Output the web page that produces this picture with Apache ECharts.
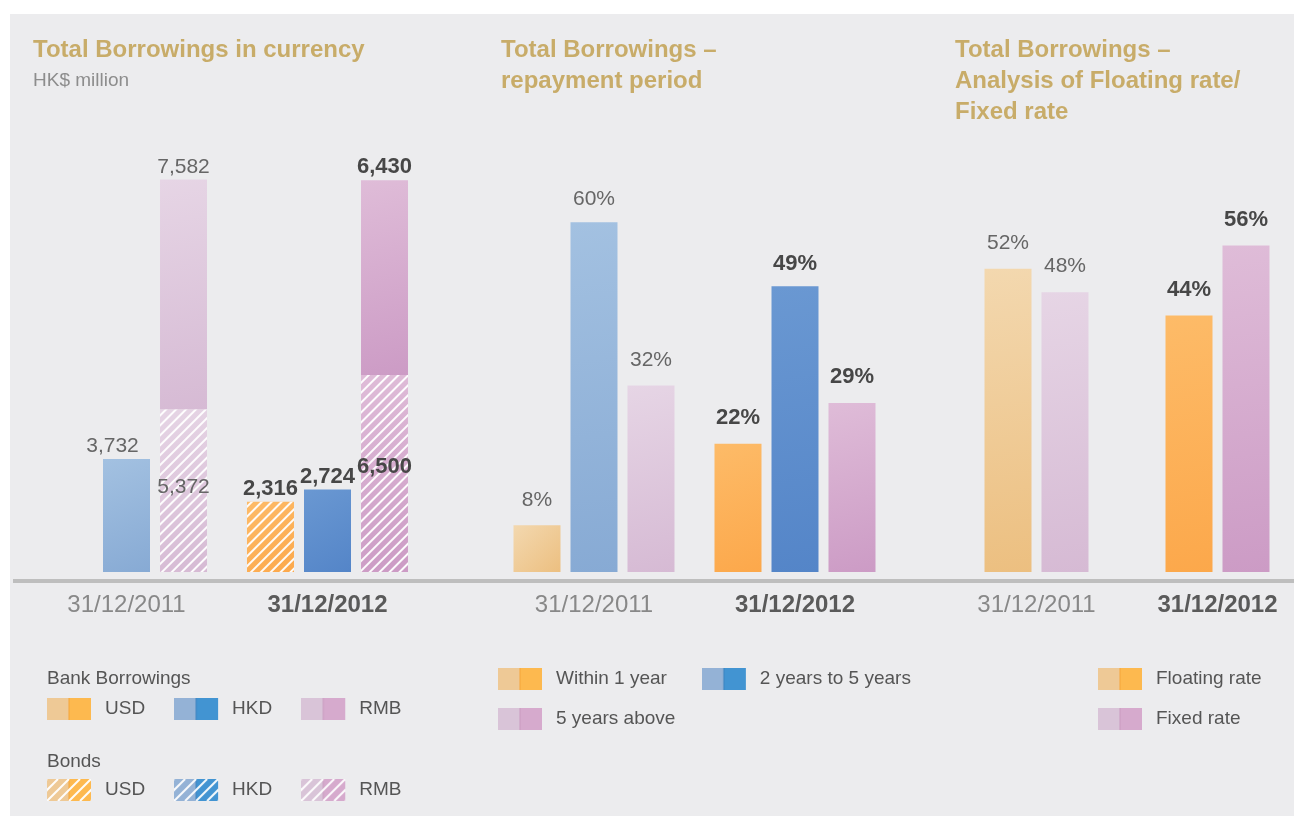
<!DOCTYPE html>
<html>
<head>
<meta charset="utf-8">
<script src="https://cdn.jsdelivr.net/npm/echarts@6/dist/echarts.min.js"></script>
<style>
  html, body { margin: 0; padding: 0; background: #fff; }
  #chart {
    width: 1294px; height: 816px;
    background: linear-gradient(#ECECEE, #ECECEE) 10px 14px / 1284px 802px no-repeat, #fff;
  }
</style>
</head>
<body>
<div id="chart"></div>
<script>
// data
const dates = ['31/12/2011', '31/12/2012'];
// HK$ million
const bankUSD = [null, null];
const bankHKD = [3732, 2724];
const bankRMB = [7582, 6430];
const bondUSD = [null, 2316];
const bondHKD = [null, null];
const bondRMB = [5372, 6500];
// repayment period, %
const within1Year = [8, 22];
const years2to5 = [60, 49];
const years5Above = [32, 29];
// floating / fixed, %
const floatingRate = [52, 44];
const fixedRate = [48, 56];

const FONT = '"Liberation Sans", Arial, sans-serif';
const GOLD = '#C8AC69';

// [2011 tone, 2012 tone]
const ORANGE = [['#F3D8AF', '#ECBF80'], ['#FDBB68', '#FCA84B']];
const BLUE = [['#A3C1E1', '#87AAD4'], ['#6A98D2', '#5485C8']];
const PINK = [['#E6D5E5', '#D6BAD4'], ['#DFBCD8', '#CC9BC5']];
const HATCH = {
	symbol: 'rect', symbolSize: 1, color: 'rgba(255,255,255,0.95)',
	dashArrayX: [1, 0], dashArrayY: [2, 4.5], rotation: -Math.PI / 4
};

const labelNormal = { fontSize: 21, color: '#666', fontWeight: 'normal', fontFamily: FONT };
const labelBold = { fontSize: 22, color: '#474747', fontWeight: 'bold', fontFamily: FONT };

function tone(c) {
	return { type: 'linear', x: 0, y: 0, x2: 1, y2: 1,
		colorStops: [{ offset: 0, color: c[0] }, { offset: 1, color: c[1] }] };
}

function items(values, palette, hatch, extra) {
	return values.map((v, i) => {
		let style = { color: tone(palette[i]) };
		if (hatch) style.decal = HATCH;
		return {
			value: v,
			itemStyle: style,
			label: Object.assign({}, i ? labelBold : labelNormal, extra ? extra[i] : {})
		};
	});
}

// two tone legend key, light half = 2011, strong half = 2012
function swatch(c1, c2, line, hatch) {
	let cv = document.createElement('canvas');
	cv.width = 53; cv.height = 22;
	let g = cv.getContext('2d');
	g.fillStyle = c1; g.fillRect(0, 0, 22, 22);
	g.fillStyle = c2; g.fillRect(22, 0, 22, 22);
	g.fillStyle = line; g.fillRect(21.5, 0, 1, 22);
	if (hatch) {
		g.save();
		g.beginPath(); g.rect(0, 0, 44, 22); g.clip();
		g.strokeStyle = 'rgba(255,255,255,0.95)';
		g.lineWidth = 2;
		for (let x = -22; x < 60; x += 11) {
			g.beginPath(); g.moveTo(x, 22); g.lineTo(x + 22, 0); g.stroke();
		}
		g.restore();
	}
	return 'image://' + cv.toDataURL();
}
const KEY = {
	orange: ['#EEC996', '#FDB94F', '#F5A53A'],
	blue: ['#94B2D6', '#4294D2', '#3A82C0'],
	pink: ['#D9C4D8', '#D6AACD', '#C99AC0']
};
function key(name, k, hatch) {
	return { name: name, icon: swatch(KEY[k][0], KEY[k][1], KEY[k][2], hatch) };
}

const fmtNum = p => p.value == null ? '' : p.value.toLocaleString('en-US');
const fmtPct = p => p.value + '%';

function xAxis(gridIndex) {
	return {
		gridIndex: gridIndex, type: 'category', data: dates,
		axisLine: { show: false }, axisTick: { show: false },
		axisLabel: {
			margin: 21,
			formatter: (v, i) => i ? '{b|' + v + '}' : '{a|' + v + '}',
			rich: {
				a: { fontSize: 24, color: '#888', fontFamily: FONT },
				b: { fontSize: 24, color: '#5a5a5a', fontWeight: 'bold', fontFamily: FONT }
			}
		}
	};
}

function bar(name, axis, stack, data, label) {
	let s = {
		name: name, type: 'bar', xAxisIndex: axis, yAxisIndex: axis,
		barWidth: 47, barGap: '21.3%',
		label: Object.assign({ show: true, position: 'top', distance: axis ? 15 : 2,
			formatter: axis ? fmtPct : fmtNum }, label || {}),
		data: data
	};
	if (stack) s.stack = stack;
	return s;
}

const legendText = { fontSize: 19, color: '#555', fontFamily: FONT };
function legend(left, top, data, extra) {
	return Object.assign({
		left: left, top: top, padding: 0, itemWidth: 53, itemHeight: 22,
		selectedMode: false, textStyle: legendText, data: data
	}, extra || {});
}
const stripPrefix = n => n.slice(5);

let chart = echarts.init(document.getElementById('chart'));
let option = {
	animation: false,
	title: [
		{ text: 'Total Borrowings in currency', left: 33, top: 34.5, padding: 0,
			textStyle: { fontSize: 24, fontWeight: 'bold', color: GOLD, lineHeight: 31, fontFamily: FONT } },
		{ text: 'HK$ million', left: 33, top: 70, padding: 0,
			textStyle: { fontSize: 19, fontWeight: 'normal', color: '#8d8d8d', lineHeight: 22, fontFamily: FONT } },
		{ text: 'Total Borrowings –\nrepayment period', left: 501, top: 34.5, padding: 0,
			textStyle: { fontSize: 24, fontWeight: 'bold', color: GOLD, lineHeight: 31, fontFamily: FONT } },
		{ text: 'Total Borrowings –\nAnalysis of Floating rate/\nFixed rate', left: 955, top: 34.5, padding: 0,
			textStyle: { fontSize: 24, fontWeight: 'bold', color: GOLD, lineHeight: 31, fontFamily: FONT } },
		{ text: 'Bank Borrowings', left: 47, top: 668, padding: 0,
			textStyle: Object.assign({ fontWeight: 'normal', lineHeight: 22 }, legendText) },
		{ text: 'Bonds', left: 47, top: 751, padding: 0,
			textStyle: Object.assign({ fontWeight: 'normal', lineHeight: 22 }, legendText) }
	],
	legend: [
		legend(47, 698, [key('Bank USD', 'orange'), key('Bank HKD', 'blue'), key('Bank RMB', 'pink')],
			{ itemGap: 29, formatter: stripPrefix }),
		legend(47, 779, [key('Bond USD', 'orange', true), key('Bond HKD', 'blue', true), key('Bond RMB', 'pink', true)],
			{ itemGap: 29, formatter: stripPrefix }),
		legend(498, 668, [key('Within 1 year', 'orange'), key('2 years to 5 years', 'blue')], { itemGap: 35 }),
		legend(498, 708, [key('5 years above', 'pink')]),
		legend(1098, 668, [key('Floating rate', 'orange'), key('Fixed rate', 'pink')],
			{ orient: 'vertical', itemGap: 18 })
	],
	grid: [
		{ left: 26, width: 402, top: 117.5, height: 454.5, outerBoundsMode: 'none' },
		{ left: 493.5, width: 402, top: 105.6, height: 466.4, outerBoundsMode: 'none' },
		{ left: 946, width: 362, top: 105.6, height: 466.4, outerBoundsMode: 'none' }
	],
	xAxis: [xAxis(0), xAxis(1), xAxis(2)],
	yAxis: [
		{ gridIndex: 0, type: 'value', min: 0, max: 15000, show: false },
		{ gridIndex: 1, type: 'value', min: 0, max: 80, show: false },
		{ gridIndex: 2, type: 'value', min: 0, max: 80, show: false }
	],
	graphic: [
		{ type: 'rect', shape: { x: 13, y: 579, width: 1281, height: 4 }, style: { fill: '#BEBEBE' }, silent: true }
	],
	series: [
		bar('Bond USD', 0, 'usd', items(bondUSD, ORANGE, true)),
		bar('Bank USD', 0, 'usd', items(bankUSD, ORANGE, false)),
		bar('Bank HKD', 0, 'hkd', items(bankHKD, BLUE, false, [{ offset: [-14, 0] }, {}])),
		bar('Bond HKD', 0, 'hkd', items(bondHKD, BLUE, true)),
		bar('Bond RMB', 0, 'rmb', items(bondRMB, PINK, true, [{ distance: 74 }, { distance: 94 }]),
			{ position: 'insideBottom' }),
		bar('Bank RMB', 0, 'rmb', items(bankRMB, PINK, false)),

		bar('Within 1 year', 1, null, items(within1Year, ORANGE, false)),
		bar('2 years to 5 years', 1, null, items(years2to5, BLUE, false, [{ distance: 12 }, { distance: 11 }])),
		bar('5 years above', 1, null, items(years5Above, PINK, false)),

		bar('Floating rate', 2, null, items(floatingRate, ORANGE, false)),
		bar('Fixed rate', 2, null, items(fixedRate, PINK, false))
	]
};
chart.setOption(option);
</script>
</body>
</html>
